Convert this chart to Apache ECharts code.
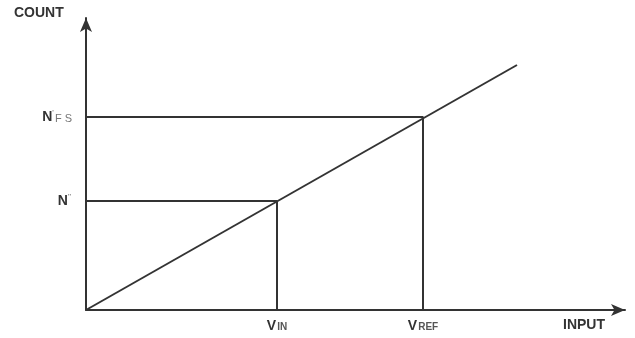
<!DOCTYPE html>
<html>
<head>
<meta charset="utf-8">
<script src="https://cdn.jsdelivr.net/npm/echarts@6/dist/echarts.min.js"></script>
<style>
  html, body { margin: 0; padding: 0; background: #fff; }
  #main { width: 635px; height: 338px; }
</style>
</head>
<body>
<div id="main"></div>
<script>
// transfer line and the two reference points
var transferLine = [[0, 0], [431, 245]]
var pointIn = [191, 109]   // V_IN -> N''
var pointRef = [337, 193]  // V_REF -> N'FS
var xTicks = [191, 337]
var xTickNames = ['VIN', 'VREF']
var yTicks = [109, 193]
var yTickNames = ['N\'\'', 'NFS']

var ink = '#333'

var myChart = echarts.init(document.getElementById('main'))

var xLabels = {}
xTicks.forEach(function (v, i) { xLabels[v] = xTickNames[i] })
var yLabels = {}
yTicks.forEach(function (v, i) { yLabels[v] = yTickNames[i] })

var option = {
  backgroundColor: '#fff',
  animation: false,
  grid: { left: 86, right: 10, top: 18, bottom: 28 },
  xAxis: {
    type: 'value',
    min: 0,
    max: 539,
    splitLine: { show: false },
    axisTick: { show: false },
    axisLine: { lineStyle: { color: ink, width: 2 }, symbol: ['none', 'arrow'], symbolSize: [9, 14] },
    axisLabel: {
      customValues: xTicks,
      margin: 9,
      formatter: function (v) {
        var s = xLabels[v] || ''
        return '{big|' + s.charAt(0) + '}{small|' + s.slice(1) + '}'
      },
      rich: {
        big: { fontFamily: 'Liberation Sans', fontWeight: 'bold', fontSize: 14, color: ink },
        small: { fontFamily: 'Liberation Sans', fontWeight: 'bold', fontSize: 10, color: '#555', padding: [3, 0, 0, 1] }
      }
    }
  },
  yAxis: {
    type: 'value',
    min: 0,
    max: 292,
    splitLine: { show: false },
    axisTick: { show: false },
    axisLine: { lineStyle: { color: ink, width: 2 }, symbol: ['none', 'arrow'], symbolSize: [9, 14] },
    axisLabel: {
      customValues: yTicks,
      margin: 14,
      formatter: function (v) {
        var s = yLabels[v] || ''
        if (s === 'NFS') return '{big|N}{sup|\'}{small|F S}'
        return '{big|N}{sup|\'\'}'
      },
      rich: {
        big: { fontFamily: 'Liberation Sans', fontWeight: 'bold', fontSize: 14, color: ink },
        sup: { fontFamily: 'Liberation Sans', fontSize: 8, color: '#666', padding: [0, 1, 8, 0] },
        small: { fontFamily: 'Liberation Sans', fontSize: 11, color: '#777', padding: [3, 0, 0, 0] }
      }
    }
  },
  graphic: [
    { type: 'text', left: 14, top: 6, style: { text: 'COUNT', fontFamily: 'Liberation Sans', fontWeight: 'bold', fontSize: 14, fill: ink } },
    { type: 'text', left: 563, top: 318, style: { text: 'INPUT', fontFamily: 'Liberation Sans', fontWeight: 'bold', fontSize: 14, fill: ink } }
  ],
  series: [
    {
      type: 'line',
      data: transferLine,
      symbol: 'none',
      lineStyle: { color: ink, width: 2 }
    },
    {
      type: 'line',
      data: [[0, pointIn[1]], pointIn, [pointIn[0], 0]],
      symbol: 'none',
      lineStyle: { color: ink, width: 2 }
    },
    {
      type: 'line',
      data: [[0, pointRef[1]], pointRef, [pointRef[0], 0]],
      symbol: 'none',
      lineStyle: { color: ink, width: 2 }
    }
  ]
}

myChart.setOption(option)
</script>
</body>
</html>
